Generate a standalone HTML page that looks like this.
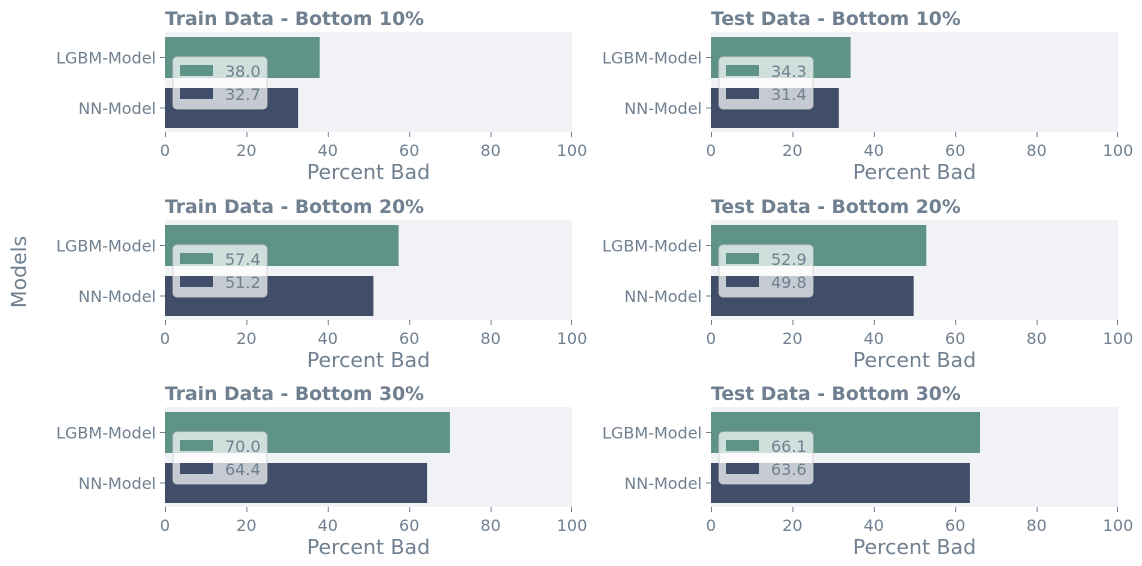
<!DOCTYPE html>
<html><head><meta charset="utf-8"><style>
body{margin:0;background:#fff}
svg{display:block;font-family:"DejaVu Sans","Liberation Sans",sans-serif;fill:#708090}
.t{font-weight:bold;font-size:18.8px}
.tk{font-size:16px}
.xl{font-size:20.5px}
.lg{font-size:16px}
</style></head><body>
<svg width="1142" height="566" viewBox="0 0 1142 566" xmlns="http://www.w3.org/2000/svg">
<defs>
<g id="axes">
<rect x="0" y="32" width="407" height="100" fill="#f1f2f6"/>
<g stroke="#708090" stroke-width="1">
<line x1="-5" x2="0" y1="57.5" y2="57.5"/><line x1="-5" x2="0" y1="108" y2="108"/>
<line x1="0.5" x2="0.5" y1="132" y2="137"/><line x1="81.9" x2="81.9" y1="132" y2="137"/>
<line x1="163.3" x2="163.3" y1="132" y2="137"/><line x1="244.7" x2="244.7" y1="132" y2="137"/>
<line x1="326.1" x2="326.1" y1="132" y2="137"/><line x1="406.5" x2="406.5" y1="132" y2="137"/>
</g>
<g class="tk" text-anchor="end"><text x="-9" y="63.5">LGBM-Model</text><text x="-9" y="114">NN-Model</text></g>
<g class="tk" text-anchor="middle"><text x="0" y="156">0</text><text x="81.4" y="156">20</text><text x="162.8" y="156">40</text><text x="244.2" y="156">60</text><text x="325.6" y="156">80</text><text x="407" y="156">100</text></g>
<text class="xl" x="203.5" y="179" text-anchor="middle">Percent Bad</text>
</g>
<g id="leg">
<rect x="8" y="57" width="94" height="52" rx="4" fill="#fff" fill-opacity="0.7" stroke="#cccccc" stroke-opacity="0.8"/>
<rect x="15" y="65" width="33" height="11" fill="#5f9387"/>
<rect x="15" y="88" width="33" height="11" fill="#414e6a"/>
</g>
</defs>
<text x="26" y="272" transform="rotate(-90 26 272)" text-anchor="middle" class="xl">Models</text>

<g transform="translate(165,0)"><use href="#axes"/><text class="t" x="0" y="25">Train Data - Bottom 10%</text>
<rect x="0" y="37" width="154.7" height="41" fill="#5f9387"/><rect x="0" y="88" width="133.1" height="40" fill="#414e6a"/>
<use href="#leg"/><g class="lg"><text x="60" y="77">38.0</text><text x="60" y="100">32.7</text></g></g>

<g transform="translate(711,0)"><use href="#axes"/><text class="t" x="0" y="25">Test Data - Bottom 10%</text>
<rect x="0" y="37" width="139.6" height="41" fill="#5f9387"/><rect x="0" y="88" width="127.8" height="40" fill="#414e6a"/>
<use href="#leg"/><g class="lg"><text x="60" y="77">34.3</text><text x="60" y="100">31.4</text></g></g>

<g transform="translate(165,188)"><use href="#axes"/><text class="t" x="0" y="25">Train Data - Bottom 20%</text>
<rect x="0" y="37" width="233.6" height="41" fill="#5f9387"/><rect x="0" y="88" width="208.4" height="40" fill="#414e6a"/>
<use href="#leg"/><g class="lg"><text x="60" y="77">57.4</text><text x="60" y="100">51.2</text></g></g>

<g transform="translate(711,188)"><use href="#axes"/><text class="t" x="0" y="25">Test Data - Bottom 20%</text>
<rect x="0" y="37" width="215.3" height="41" fill="#5f9387"/><rect x="0" y="88" width="202.7" height="40" fill="#414e6a"/>
<use href="#leg"/><g class="lg"><text x="60" y="77">52.9</text><text x="60" y="100">49.8</text></g></g>

<g transform="translate(165,375)"><use href="#axes"/><text class="t" x="0" y="25">Train Data - Bottom 30%</text>
<rect x="0" y="37" width="284.9" height="41" fill="#5f9387"/><rect x="0" y="88" width="262.1" height="40" fill="#414e6a"/>
<use href="#leg"/><g class="lg"><text x="60" y="77">70.0</text><text x="60" y="100">64.4</text></g></g>

<g transform="translate(711,375)"><use href="#axes"/><text class="t" x="0" y="25">Test Data - Bottom 30%</text>
<rect x="0" y="37" width="269.0" height="41" fill="#5f9387"/><rect x="0" y="88" width="258.9" height="40" fill="#414e6a"/>
<use href="#leg"/><g class="lg"><text x="60" y="77">66.1</text><text x="60" y="100">63.6</text></g></g>
</svg>
</body></html>
